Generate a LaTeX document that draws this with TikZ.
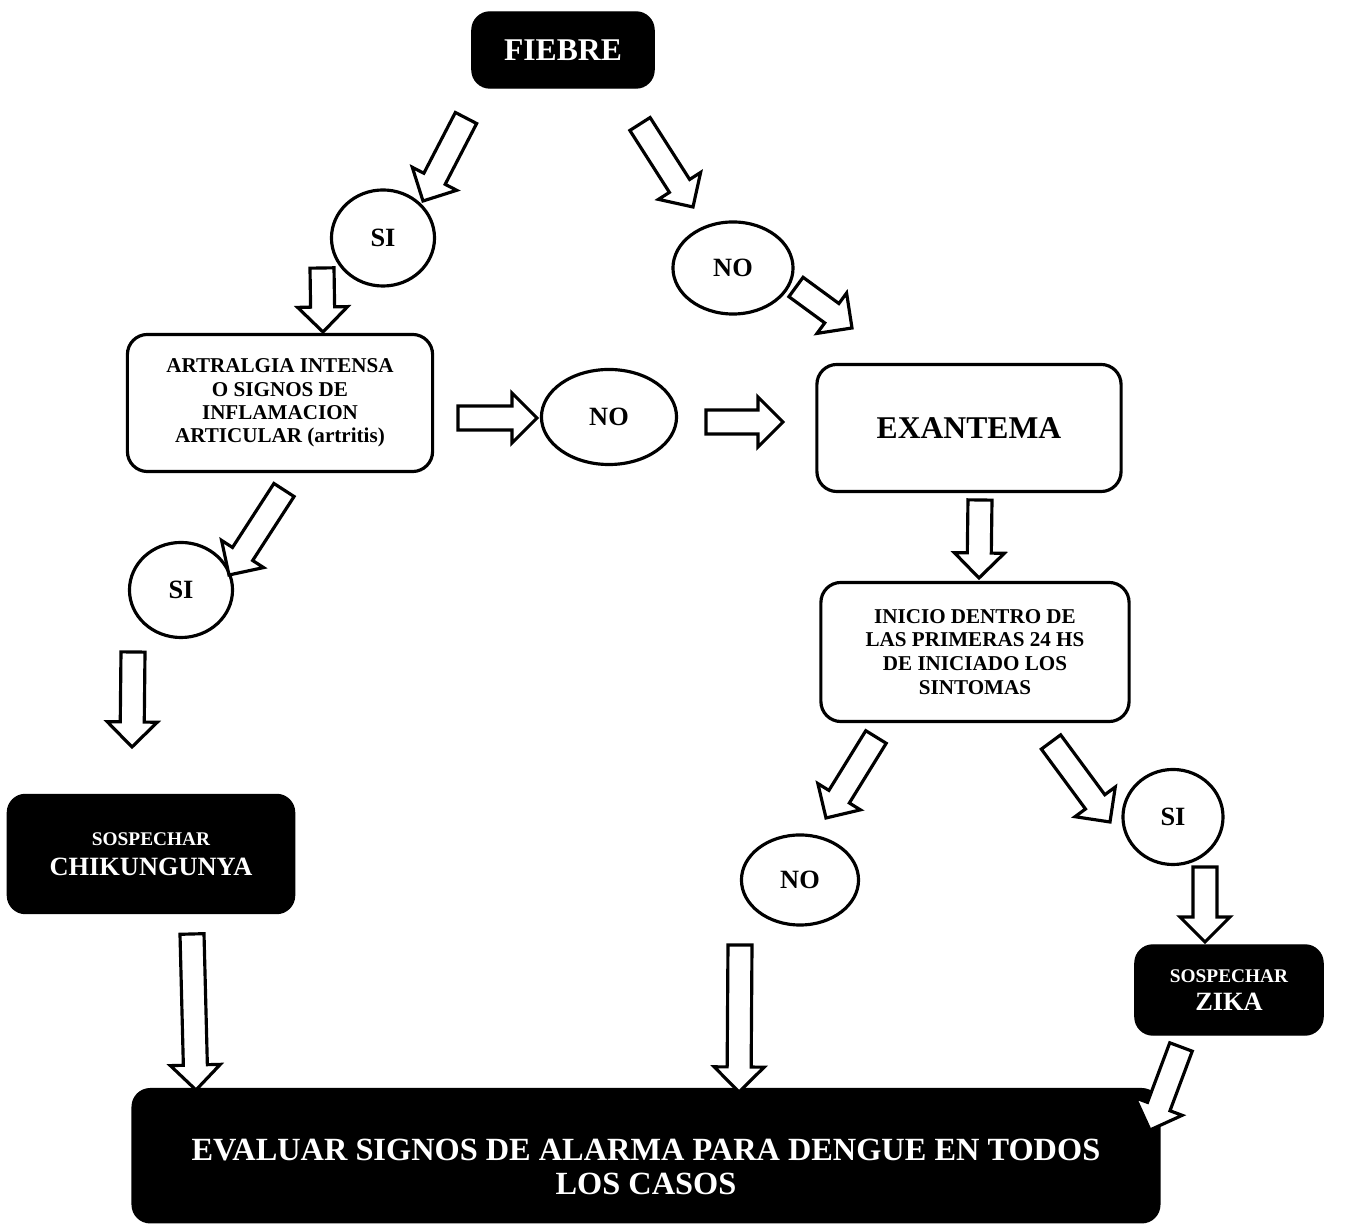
\documentclass[tikz,border=0pt]{standalone}
\usepackage{fontspec}
\setmainfont{Liberation Serif}
\usetikzlibrary{calc,shapes.geometric}
\tikzset{
  cajaOscura/.style={draw=black,fill=black,rounded corners=0.18cm,text=white,
    font=\bfseries,align=center,inner sep=0pt},
  cajaClara/.style={draw=black,line width=0.9pt,rounded corners=0.2cm,
    font=\bfseries,align=center,inner sep=0pt},
  elipse/.style={ellipse,draw=black,line width=0.9pt,inner sep=0pt,
    font=\bfseries\fontsize{7.5}{9}\selectfont},
  flechaHueca/.style={draw=black,fill=white,line width=0.9pt,line join=miter}
}
% flecha hueca: de la cola (#1) a la punta (#2)
\newcommand{\flecha}[2]{%
  \coordinate (fb) at ($(#2)!0.25cm!(#1)$);
  \draw[flechaHueca] ($(#1)!0.12cm!90:(#2)$) -- ($(fb)!0.12cm!90:(#2)$)
    -- ($(fb)!0.25cm!90:(#2)$) -- (#2) -- ($(fb)!0.25cm!-90:(#2)$)
    -- ($(fb)!0.12cm!-90:(#2)$) -- ($(#1)!0.12cm!-90:(#2)$) -- cycle;}

\begin{document}
\begin{tikzpicture}[x=0.01cm,y=-0.01cm]
\useasboundingbox (0,0) rectangle (1356,1228);
% cajas
\node[cajaOscura,minimum width=1.82cm,minimum height=0.76cm,
  font=\bfseries\fontsize{9}{10}\selectfont] (fiebre) at (563,50) {FIEBRE};
\node[cajaClara,minimum width=3.05cm,minimum height=1.37cm,
  font=\bfseries\fontsize{6}{6.6}\selectfont] (artralgia) at (280,403)
  {ARTRALGIA INTENSA\\O SIGNOS DE\\INFLAMACION\\ARTICULAR (artritis)};
\node[cajaClara,minimum width=3.04cm,minimum height=1.27cm,
  font=\bfseries\fontsize{9}{10}\selectfont] (exantema) at (969,428) {EXANTEMA};
\node[cajaClara,minimum width=3.08cm,minimum height=1.39cm,
  font=\bfseries\fontsize{6}{6.8}\selectfont] (inicio) at (975,652)
  {INICIO DENTRO DE\\LAS PRIMERAS 24 HS\\DE INICIADO LOS\\SINTOMAS};
\node[cajaOscura,minimum width=2.87cm,minimum height=1.19cm,
  font=\bfseries\fontsize{7.5}{8.5}\selectfont] (chik) at (151,854)
  {{\fontsize{5.5}{6}\selectfont SOSPECHAR}\\CHIKUNGUNYA};
\node[cajaOscura,minimum width=1.88cm,minimum height=0.9cm,
  font=\bfseries\fontsize{7.5}{8}\selectfont] (zika) at (1229,990)
  {{\fontsize{5.5}{6}\selectfont SOSPECHAR}\\ZIKA};
\node[cajaOscura,anchor=north,minimum width=10.27cm,text height=1.06cm,
  text depth=0.28cm,font=\bfseries\fontsize{9.2}{9.6}\selectfont] (evaluar)
  at (646,1088) {EVALUAR SIGNOS DE ALARMA PARA DENGUE EN TODOS\\LOS CASOS};
% elipses
\node[elipse,minimum width=1.03cm,minimum height=0.96cm] (si1) at (383,238) {SI};
\node[elipse,minimum width=1.2cm,minimum height=0.92cm] (no1) at (733,268) {NO};
\node[elipse,minimum width=1.35cm,minimum height=0.95cm] (no2) at (609,417) {NO};
\node[elipse,minimum width=1.03cm,minimum height=0.95cm] (si2) at (181,590) {SI};
\node[elipse,minimum width=1.0cm,minimum height=0.95cm] (si3) at (1173,817) {SI};
\node[elipse,minimum width=1.17cm,minimum height=0.9cm] (no3) at (800,880) {NO};
% flechas
\coordinate (c1) at (466,118);  \coordinate (p1) at (423,201);
\coordinate (c2) at (640,124);  \coordinate (p2) at (693,207);
\coordinate (c3) at (322,268);  \coordinate (p3) at (323,332);
\coordinate (c4) at (796,287);  \coordinate (p4) at (852,328);
\coordinate (c5) at (458,418);  \coordinate (p5) at (537,418);
\coordinate (c6) at (706,422);  \coordinate (p6) at (783,422);
\coordinate (c7) at (284,490);  \coordinate (p7) at (229,575);
\coordinate (c8) at (133,652);  \coordinate (p8) at (132,747);
\coordinate (c9) at (980,500);  \coordinate (p9) at (979,578);
\coordinate (c10) at (876,737); \coordinate (p10) at (826,818);
\coordinate (c11) at (1051,742);\coordinate (p11) at (1110,822);
\coordinate (c12) at (1205,867);\coordinate (p12) at (1205,942);
\coordinate (c13) at (192,934); \coordinate (p13) at (196,1090);
\coordinate (c14) at (740,945); \coordinate (p14) at (739,1092);
\coordinate (c15) at (1181,1047);\coordinate (p15) at (1150,1130);
\foreach \i in {1,...,15} {\flecha{c\i}{p\i}}
\end{tikzpicture}
\end{document}
